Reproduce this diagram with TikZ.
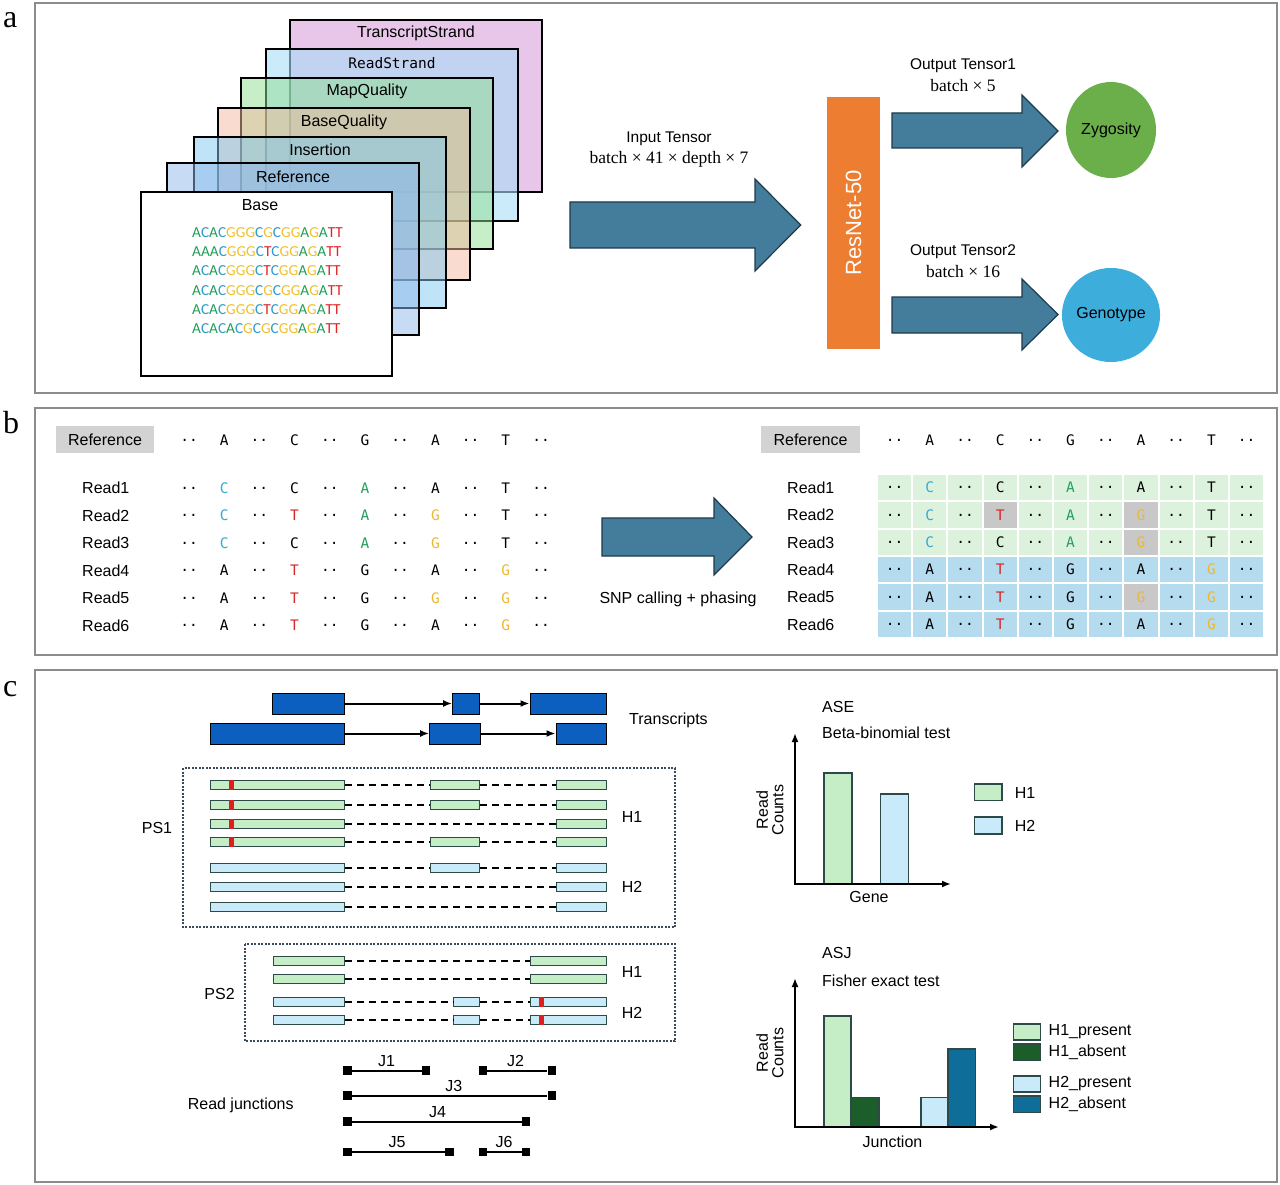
\documentclass[tikz,border=0pt]{standalone}
\usepackage{fontspec}
\setmainfont{Liberation Sans}
\newfontfamily\tmsf{Liberation Serif}
\newfontfamily\monof{DejaVu Sans Mono}
\newfontfamily\carlf{Carlito}
\usetikzlibrary{arrows.meta,shapes.geometric}
\definecolor{frm}{HTML}{8C8C8C}
\definecolor{arw}{HTML}{447D9B}
\definecolor{arwd}{HTML}{1E3A4A}
\definecolor{resn}{HTML}{ED7D31}
\definecolor{zyg}{HTML}{6AAF4A}
\definecolor{gen}{HTML}{3DAEDC}
\definecolor{ntA}{HTML}{1F9E58}
\definecolor{ntC}{HTML}{2E9BD0}
\definecolor{ntG}{HTML}{F0C12C}
\definecolor{ntT}{HTML}{E02424}
\definecolor{nb}{HTML}{3AA8D4}
\definecolor{ng}{HTML}{22A05C}
\definecolor{nr}{HTML}{D92626}
\definecolor{ny}{HTML}{EDB82E}
\definecolor{refg}{HTML}{D3D3D3}
\definecolor{cg}{HTML}{DDF2DD}
\definecolor{cb}{HTML}{B5DBEF}
\definecolor{cgr}{HTML}{C8C8C8}
\definecolor{trb}{HTML}{0D5FBF}
\definecolor{hg}{HTML}{C6EEC6}
\definecolor{hb}{HTML}{C9EAF8}
\definecolor{segd}{HTML}{2D4A48}
\definecolor{psd}{HTML}{3A4A5A}
\definecolor{dg}{HTML}{1B5E2A}
\definecolor{db}{HTML}{0F6D99}
\definecolor{mk}{HTML}{E01E1E}
\definecolor{LA}{HTML}{E8C6EA}
\definecolor{LB}{HTML}{A9DDF7}
\definecolor{LC}{HTML}{90E090}
\definecolor{LD}{HTML}{F4B8A0}
\definecolor{LE}{HTML}{80C8F0}
\definecolor{LF}{HTML}{90B8EC}
\def\sqlet#1{\if#1A\textcolor{ntA}{A}\fi\if#1C\textcolor{ntC}{C}\fi\if#1G\textcolor{ntG}{G}\fi\if#1T\textcolor{ntT}{T}\fi}
\def\sqloop#1{\ifx#1\relax\else\sqlet#1\expandafter\sqloop\fi}
\newcommand\sq[1]{\sqloop#1\relax}
\newcommand\dtt{..}
\newcommand\bx[6]{\node[#6, minimum width={#3pt-#2pt}, minimum height=#5] (#1) at ({(#2+#3)/2},#4) {};}
\newcommand\rowthree[9]{\bx{#1a}{#4}{#5}{#2}{9pt}{#3}\bx{#1b}{#6}{#7}{#2}{9pt}{#3}\bx{#1c}{#8}{#9}{#2}{9pt}{#3}\draw[dsh] (#1a.east) -- (#1b.west); \draw[dsh] (#1b.east) -- (#1c.west);}
\newcommand\rowtwo[7]{\bx{#1a}{#4}{#5}{#2}{9pt}{#3}\bx{#1c}{#6}{#7}{#2}{9pt}{#3}\draw[dsh] (#1a.east) -- (#1c.west);}
\newcommand\rmark[2]{\fill[mk] ({#1-2.5},{#2-5}) rectangle ({#1+2.5},{#2+5});}
\newcommand\readrows{{\dtt/black,C/nb,\dtt/black,C/black,\dtt/black,A/ng,\dtt/black,A/black,\dtt/black,T/black,\dtt/black},{\dtt/black,C/nb,\dtt/black,T/nr,\dtt/black,A/ng,\dtt/black,G/ny,\dtt/black,T/black,\dtt/black},{\dtt/black,C/nb,\dtt/black,C/black,\dtt/black,A/ng,\dtt/black,G/ny,\dtt/black,T/black,\dtt/black},{\dtt/black,A/black,\dtt/black,T/nr,\dtt/black,G/black,\dtt/black,A/black,\dtt/black,G/ny,\dtt/black},{\dtt/black,A/black,\dtt/black,T/nr,\dtt/black,G/black,\dtt/black,G/ny,\dtt/black,G/ny,\dtt/black},{\dtt/black,A/black,\dtt/black,T/nr,\dtt/black,G/black,\dtt/black,A/black,\dtt/black,G/ny,\dtt/black}}
\newcommand\refrow{\dtt/black,A/black,\dtt/black,C/black,\dtt/black,G/black,\dtt/black,A/black,\dtt/black,T/black,\dtt/black}
\begin{document}
\begin{tikzpicture}[x=1pt,y=-1pt,
 lab/.style={font=\fontsize{16}{19}\selectfont, inner sep=0pt},
 labs/.style={font=\fontsize{15.5}{18}\selectfont, inner sep=0pt},
 srf/.style={font=\tmsf\fontsize{17.5}{20}\selectfont, inner sep=0pt},
 frame/.style={draw=frm, line width=2pt},
 layer/.style={draw=black, line width=1.6pt},
 blk/.style={fill=arw, draw=arwd, line width=1.2pt, line join=miter},
 seqb/.style={font=\monof\fontsize{14.5}{17}\selectfont, inner sep=0pt},
 trbox/.style={fill=trb, draw=black, line width=1pt, inner sep=0pt},
 sgr/.style={fill=hg, draw=segd, line width=1pt, inner sep=0pt},
 sbl/.style={fill=hb, draw=segd, line width=1pt, inner sep=0pt},
 dsh/.style={line width=1.9pt, dash pattern=on 7pt off 5pt},
 psbox/.style={draw=psd, line width=1.3pt, dash pattern=on 2pt off 1.5pt},
 jsq/.style={fill=black, minimum size=8.5pt, inner sep=0pt},
 jl/.style={line width=2pt},
 tarr/.style={line width=2pt, -{Latex[length=9pt,width=7pt]}},
 axis/.style={line width=2pt, {Latex[length=9pt,width=7pt]}-{Latex[length=9pt,width=7pt]}},
 bar/.style={draw=segd, line width=1.4pt},
 plab/.style={font=\tmsf\fontsize{32}{36}\selectfont, inner sep=0pt, anchor=base west},
]
\useasboundingbox (0,0) rectangle (1280,1185);
\fill[white] (0,0) rectangle (1280,1185);
% frames
\draw[frame] (35,3) rectangle (1277,393);
\draw[frame] (35,408) rectangle (1277,655);
\draw[frame] (35,670) rectangle (1277,1182);
\node[plab] (pa) at (3,28) {a};
\node[plab] (pb) at (3,433) {b};
\node[plab] (pc) at (3,696) {c};
% ===== panel a: layers
\draw[layer, fill=LA] (290,20) rectangle (542,192);
\node[lab] (lTS) at (416,33) {TranscriptStrand};
\draw[layer, fill=LB, fill opacity=0.6] (266,49) rectangle (518,221);
\node[lab, font=\monof\fontsize{14.5}{17}\selectfont] (lRS) at (392,63) {ReadStrand};
\draw[layer, fill=LC, fill opacity=0.5] (241,78) rectangle (493,249);
\node[lab] (lMQ) at (367,91) {MapQuality};
\draw[layer, fill=LD, fill opacity=0.5] (218,108) rectangle (470,280);
\node[lab] (lBQ) at (344,122) {BaseQuality};
\draw[layer, fill=LE, fill opacity=0.5] (194,137) rectangle (446,308);
\node[lab] (lIN) at (320,150) {Insertion};
\draw[layer, fill=LF, fill opacity=0.5] (167,163) rectangle (419,335);
\node[lab] (lRF) at (293,177) {Reference};
\draw[layer, fill=white] (141,192) rectangle (392,376);
\node[lab] (lBA) at (260,205) {Base};
\begin{scope}[every node/.style={anchor=west, font=\carlf\fontsize{15.3}{18}\selectfont, inner sep=0pt}]
\node (sq1) at (192,233) {\sq{ACACGGGCGCGGAGATT}};
\node (sq2) at (192,252) {\sq{AAACGGGCTCGGAGATT}};
\node (sq3) at (192,271) {\sq{ACACGGGCTCGGAGATT}};
\node (sq4) at (192,290.5) {\sq{ACACGGGCGCGGAGATT}};
\node (sq5) at (192,310) {\sq{ACACGGGCTCGGAGATT}};
\node (sq6) at (192,329) {\sq{ACACACGCGCGGAGATT}};
\end{scope}
% block arrows
\draw[blk] (570,202) -- (755,202) -- (755,179) -- (800.7,225) -- (755,271) -- (755,248) -- (570,248) -- cycle;
\draw[blk] (892,113) -- (1022,113) -- (1022,95) -- (1058,131) -- (1022,167) -- (1022,148) -- (892,148) -- cycle;
\draw[blk] (892,297) -- (1022,297) -- (1022,279) -- (1058,314.5) -- (1022,350) -- (1022,333) -- (892,333) -- cycle;
\node[labs] (itl) at (669,139) {Input Tensor};
\node[srf] (itd) at (669,159) {batch × 41 × depth × 7};
\node[labs] (o1l) at (963,66) {Output Tensor1};
\node[srf] (o1d) at (963,86) {batch × 5};
\node[labs] (o2l) at (963,252) {Output Tensor2};
\node[srf] (o2d) at (963,272) {batch × 16};
\node[fill=resn, minimum width=53pt, minimum height=252pt, inner sep=0pt] (res) at (853.5,223) {};
\node[rotate=90, text=white, font=\fontsize{22}{26}\selectfont, inner sep=0pt] (resl) at (res.center) {ResNet-50};
\node[ellipse, fill=zyg, minimum width=90pt, minimum height=96pt, inner sep=0pt, lab] (zy) at (1111,130) {Zygosity};
\node[ellipse, fill=gen, minimum width=90pt, minimum height=94pt, inner sep=0pt, lab] (gt) at (1111,315) {Genotype};
% ===== panel b
\node[fill=refg, minimum width=98pt, minimum height=27pt, inner sep=0pt, lab] (refL) at (105,439.5) {Reference};
\node[fill=refg, minimum width=99pt, minimum height=27pt, inner sep=0pt, lab] (refR) at (810.5,439.5) {Reference};
\foreach \t/\c [count=\k from 0] in \refrow {
  \node[seqb, text=\c] (al\k) at ({189+35.2*\k},440) {\t};
  \node[seqb, text=\c] (ar\k) at ({894.6+35.2*\k},440) {\t};
}
% grid
\foreach \i in {0,1,2} \foreach \k in {0,...,10}
  \fill[cg, draw=white, line width=2pt] ({877+35.2*\k},{474+27.33*\i}) rectangle ++(35.2,27.33);
\foreach \i in {3,4,5} \foreach \k in {0,...,10}
  \fill[cb, draw=white, line width=2pt] ({877+35.2*\k},{474+27.33*\i}) rectangle ++(35.2,27.33);
\foreach \k/\i in {3/1,7/1,7/2,7/4}
  \fill[cgr, draw=white, line width=2pt] ({877+35.2*\k},{474+27.33*\i}) rectangle ++(35.2,27.33);
\foreach \row [count=\i] in \readrows {
  \node[lab, anchor=west] (rl\i) at (82,{488+27.5*(\i-1)}) {Read\i};
  \node[lab, anchor=west] (rr\i) at (787,{487.7+27.33*(\i-1)}) {Read\i};
  \foreach \t/\c [count=\k from 0] in \row {
    \node[seqb, text=\c] (bl\i-\k) at ({189+35.2*\k},{488+27.5*(\i-1)}) {\t};
    \node[seqb, text=\c] (br\i-\k) at ({894.6+35.2*\k},{487.7+27.33*(\i-1)}) {\t};
  }
}
\draw[blk] (602,518) -- (714,518) -- (714,498) -- (752,537) -- (714,575) -- (714,556) -- (602,556) -- cycle;
\node[lab] (snp) at (678,599) {SNP calling + phasing};
% ===== panel c: transcripts
\bx{ta1}{272}{344.5}{703.5}{21pt}{trbox}
\bx{ta2}{452.6}{479.5}{703.5}{21pt}{trbox}
\bx{ta3}{530}{606}{703.5}{21pt}{trbox}
\bx{tb1}{210}{344.5}{733.5}{21pt}{trbox}
\bx{tb2}{429.6}{480}{733.5}{21pt}{trbox}
\bx{tb3}{556}{606}{733.5}{21pt}{trbox}
\draw[tarr] (ta1.east) -- (ta2.west);
\draw[tarr] (ta2.east) -- (ta3.west);
\draw[tarr] (tb1.east) -- (tb2.west);
\draw[tarr] (tb2.east) -- (tb3.west);
\node[lab, anchor=west] (trl) at (629,720) {Transcripts};
% PS1
\draw[psbox] (183,768) rectangle (675,927);
\node[lab] (ps1) at (157,828) {PS1};
\rowthree{p1}{785}{sgr}{210}{344.5}{430.6}{479.5}{556}{606}
\rmark{231.6}{785}
\rowthree{p2}{805}{sgr}{210}{344.5}{430.6}{479.5}{556}{606}
\rmark{231.6}{805}
\rowtwo{p3}{824}{sgr}{210}{344.5}{556}{606}
\rmark{231.6}{824}
\rowthree{p4}{842}{sgr}{210}{344.5}{430.6}{479.5}{556}{606}
\rmark{231.6}{842}
\rowthree{p5}{868}{sbl}{210}{344.5}{430.6}{479.5}{556}{606}
\rowtwo{p6}{887}{sbl}{210}{344.5}{556}{606}
\rowtwo{p7}{907}{sbl}{210}{344.5}{556}{606}
\node[lab] (h1a) at (632,817) {H1};
\node[lab] (h2a) at (632,887) {H2};
% PS2
\draw[psbox] (245,944) rectangle (675,1041);
\node[lab] (ps2) at (219.6,994) {PS2};
\rowtwo{q1}{961}{sgr}{273}{344.5}{530.4}{606}
\rowtwo{q2}{979}{sgr}{273}{344.5}{530.4}{606}
\rowthree{q3}{1002}{sbl}{273}{344.5}{453.7}{479.5}{530.4}{606}
\rmark{541.5}{1002}
\rowthree{q4}{1020}{sbl}{273}{344.5}{453.7}{479.5}{530.4}{606}
\rmark{541.5}{1020}
\node[lab] (h1b) at (632,971.7) {H1};
\node[lab] (h2b) at (632,1012.7) {H2};
% junctions
\foreach \n/\xa/\xb/\y/\lx in {1/347.6/426/1070.7/386.5, 2/483/551.8/1070.7/515.6, 3/347.6/551.8/1095.7/453.7, 4/347.6/526/1121.7/437.5, 5/347.6/449.5/1152/397, 6/483/526/1152/504} {
  \node[jsq] (j\n a) at (\xa,\y) {};
  \node[jsq] (j\n b) at (\xb,\y) {};
  \draw[jl] (j\n a) -- (j\n b);
  \node[lab] (j\n l) at (\lx,{\y-10}) {J\n};
}
\node[lab, anchor=west] (rj) at (187.6,1105) {Read junctions};
% ===== ASE chart
\node[lab, anchor=west] (ase) at (822,707) {ASE};
\node[lab, anchor=west] (bbt) at (822,733) {Beta-binomial test};
\coordinate (oA) at (795,884);
\coordinate (yA) at (795,733);
\coordinate (xA) at (951,884);
\draw[bar, fill=hg] (824,773) rectangle (852,884);
\draw[bar, fill=hb] (880.7,794) rectangle (908.5,884);
\draw[axis] (yA) -- (oA) -- (xA);
\node[lab, rotate=90, align=center, font=\fontsize{16}{15.5}\selectfont] (rcA) at (770,810) {Read\\Counts};
\node[lab] (gene) at (869,897) {Gene};
\draw[bar, fill=hg] (974.6,784) rectangle (1002,800.7);
\draw[bar, fill=hb] (974.6,817) rectangle (1002,834);
\node[lab, anchor=west] (lh1) at (1014.6,792.5) {H1};
\node[lab, anchor=west] (lh2) at (1014.6,825.5) {H2};
% ===== ASJ chart
\node[lab, anchor=west] (asj) at (822,953) {ASJ};
\node[lab, anchor=west] (fet) at (822,980.7) {Fisher exact test};
\coordinate (oB) at (795,1127);
\coordinate (yB) at (795,978);
\coordinate (xB) at (999,1127);
\draw[bar, fill=hg] (824,1016) rectangle (851,1127);
\draw[bar, fill=dg] (851,1097.7) rectangle (879,1127);
\draw[bar, fill=hb] (921,1097.7) rectangle (948,1127);
\draw[bar, fill=db] (948,1049) rectangle (975.6,1127);
\draw[axis] (yB) -- (oB) -- (xB);
\node[lab, rotate=90, align=center, font=\fontsize{16}{15.5}\selectfont] (rcB) at (770,1053) {Read\\Counts};
\node[lab] (junc) at (892.5,1141.7) {Junction};
\draw[bar, fill=hg] (1013.6,1024) rectangle (1040.7,1040);
\draw[bar, fill=dg] (1013.6,1044) rectangle (1040.7,1060);
\draw[bar, fill=hb] (1013.6,1076) rectangle (1040.7,1092);
\draw[bar, fill=db] (1013.6,1096) rectangle (1040.7,1112.7);
\node[lab, anchor=west] (lg1) at (1048.5,1032) {H1\_present};
\node[lab, anchor=west] (lg2) at (1048.5,1052) {H1\_absent};
\node[lab, anchor=west] (lg3) at (1048.5,1084) {H2\_present};
\node[lab, anchor=west] (lg4) at (1048.5,1104) {H2\_absent};
\end{tikzpicture}
\end{document}
